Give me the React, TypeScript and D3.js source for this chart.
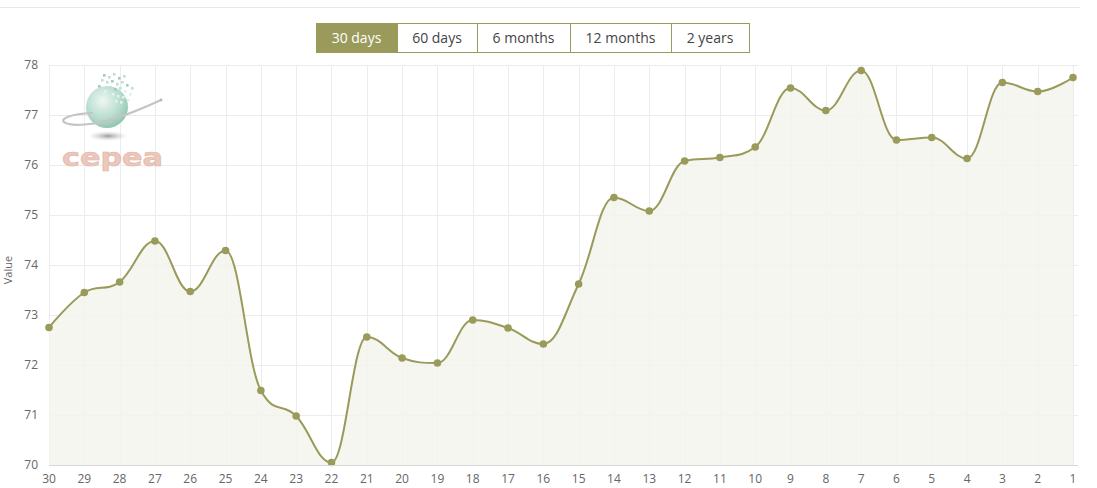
import React from "react";
import * as d3 from "d3";

const categories = ["30","29","28","27","26","25","24","23","22","21","20","19","18","17","16","15","14","13","12","11","10","9","8","7","6","5","4","3","2","1"];
const values = [72.75,73.45,73.66,74.48,73.47,74.29,71.49,70.98,70.05,72.56,72.14,72.04,72.9,72.74,72.42,73.62,75.35,75.08,76.08,76.15,76.36,77.54,77.09,77.89,76.5,76.55,76.13,77.65,77.47,77.75];
const yTicks = [70,71,72,73,74,75,76,77,78];
const buttons = ["30 days","60 days","6 months","12 months","2 years"];
const buttonEdges = [316,397,477,570,671,749];

const W = 1097, H = 488;
const OLIVE = "#9a9a5a";

function splinePath(pts: [number, number][]) {
  const p = d3.path();
  const smoothing = 1.5, denom = 2.5;
  const rc: ({x:number,y:number}|null)[] = [];
  pts.forEach(([x, y], i) => {
    if (i === 0) { p.moveTo(x, y); rc.push(null); return; }
    let lcx = x, lcy = y;
    if (i < pts.length - 1) {
      const [lx, ly] = pts[i-1];
      const [nx, ny] = pts[i+1];
      lcx = (smoothing*x + lx)/denom; lcy = (smoothing*y + ly)/denom;
      let rcx = (smoothing*x + nx)/denom, rcy = (smoothing*y + ny)/denom;
      let corr = 0;
      if (rcx !== lcx) corr = ((rcy - lcy)*(rcx - x))/(rcx - lcx) + y - rcy;
      lcy += corr; rcy += corr;
      if (lcy > ly && lcy > y) { lcy = Math.max(ly, y); rcy = 2*y - lcy; }
      else if (lcy < ly && lcy < y) { lcy = Math.min(ly, y); rcy = 2*y - lcy; }
      if (rcy > ny && rcy > y) { rcy = Math.max(ny, y); lcy = 2*y - rcy; }
      else if (rcy < ny && rcy < y) { rcy = Math.min(ny, y); lcy = 2*y - rcy; }
      rc.push({x: rcx, y: rcy});
    } else rc.push(null);
    const prev = rc[i-1];
    const [px, py] = pts[i-1];
    p.bezierCurveTo(prev ? prev.x : px, prev ? prev.y : py, lcx, lcy, x, y);
  });
  return p.toString();
}

const pixelSquares: [number, number][] = [
  [103,74],[108,76],[113,73],[118,77],[123,75],[106,81],[111,80],[116,83],[121,81],[126,84],[131,87],
  [109,86],[114,88],[119,87],[124,90],[129,93],[112,93],[117,95],[122,96],[127,99],[101,79],[98,85],[104,90],[120,101],[115,100]
];

export default function App() {
  const x = d3.scalePoint<string>().domain(categories).range([49, 1073]);
  const y = d3.scaleLinear().domain([70, 78]).range([465, 65]);
  const pts: [number, number][] = categories.map((c, i) => [x(c) as number, y(values[i])]);
  const line = splinePath(pts);
  const area = line + `L${pts[pts.length-1][0]},${y(70)}L${pts[0][0]},${y(70)}Z`;
  const font = "'Open Sans', 'Liberation Sans', Arial, sans-serif";

  return (
    <svg width={W} height={H} style={{position: "absolute", left: 0, top: 0, background: "#fff"}} fontFamily={font}>
      <defs>
        <radialGradient id="sph" cx="0.4" cy="0.35" r="0.7">
          <stop offset="0" stopColor="#eef7f3" />
          <stop offset="0.6" stopColor="#b8ddcf" />
          <stop offset="1" stopColor="#8cc3ad" />
        </radialGradient>
        <radialGradient id="shd" cx="0.5" cy="0.5" r="0.5">
          <stop offset="0" stopColor="#9a9a9a" />
          <stop offset="1" stopColor="#dddddd" stopOpacity="0.2" />
        </radialGradient>
      </defs>
      <line x1={0} x2={1080} y1={7.5} y2={7.5} stroke="#e8e8e8" />
      {/* grid */}
      {yTicks.map(t => (
        <line key={"h"+t} x1={49} x2={1078} y1={Math.round(y(t))+0.5} y2={Math.round(y(t))+0.5} stroke="#ececec" />
      ))}
      {categories.map(c => (
        <line key={"v"+c} x1={Math.round(x(c) as number)+0.5} x2={Math.round(x(c) as number)+0.5} y1={65} y2={465} stroke="#ececec" />
      ))}
      {/* logo */}
      <g>
        <circle cx={107} cy={107} r={21} fill="url(#sph)" />
        {pixelSquares.map(([a,b],i) => (
          <rect key={i} x={a} y={b} width={2.6} height={2.6} fill={b > 88 ? "#e3f1ec" : (i%3===0 ? "#9fcdbd" : "#bfe0d4")} />
        ))}
        <path d="M 92 113 C 70 114, 60 119, 64 122 C 68 126, 88 126, 110 120 C 130 114, 148 106, 161 100" fill="none" stroke="#c4c4c4" strokeWidth={2.2} strokeLinecap="round" />
        <circle cx={161} cy={100} r={1.4} fill="#b8b8b8" />
        <ellipse cx={108} cy={136} rx={18} ry={4.5} fill="url(#shd)" />
        <text x={62} y={166} fontSize={25} fontWeight="bold" fontFamily="'DejaVu Sans', sans-serif" fill="#ebc8bc" stroke="#e2b3a4" strokeWidth={0.6} textLength={101} lengthAdjust="spacingAndGlyphs">cepea</text>
      </g>
      {/* area & line */}
      <path d={area} fill="#f4f4ef" fillOpacity={0.85} />
      <path d={line} fill="none" stroke={OLIVE} strokeWidth={2} />
      {pts.map(([px, py], i) => (
        <circle key={i} cx={px} cy={py} r={3.8} fill={OLIVE} />
      ))}
      {/* axes */}
      <line x1={49} x2={1078} y1={465.5} y2={465.5} stroke="#d8d8d8" />
      {yTicks.map(t => (
        <text key={"yl"+t} x={38} y={y(t)+4} textAnchor="end" fontSize={12} fill="#666">{t}</text>
      ))}
      {categories.map(c => (
        <text key={"xl"+c} x={x(c) as number} y={483} textAnchor="middle" fontSize={12} fill="#666">{c}</text>
      ))}
      <text transform="translate(12,270) rotate(-90)" textAnchor="middle" fontSize={11} fill="#666">Value</text>
      {/* buttons */}
      {buttons.map((b, i) => {
        const x0 = buttonEdges[i], x1 = buttonEdges[i+1];
        const active = i === 0;
        return (
          <g key={b}>
            <rect x={x0+0.5} y={23.5} width={x1-x0} height={29} fill={active ? OLIVE : "#fff"} stroke={OLIVE} />
            <text x={(x0+x1)/2} y={43} textAnchor="middle" fontSize={14} fill={active ? "#fff" : "#444"}>{b}</text>
          </g>
        );
      })}
    </svg>
  );
}
